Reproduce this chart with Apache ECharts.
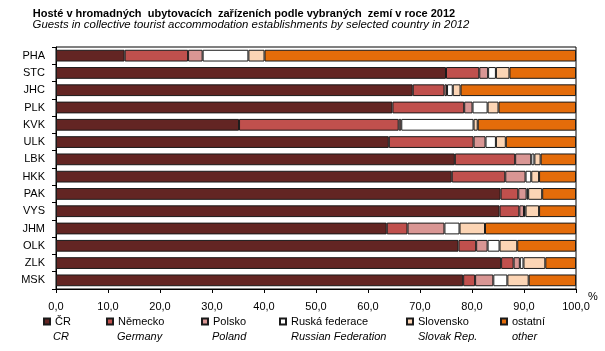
<!DOCTYPE html>
<html>
<head>
<meta charset="utf-8">
<script src="https://cdn.jsdelivr.net/npm/echarts@6/dist/echarts.min.js"></script>
<style>
  html, body { margin: 0; padding: 0; background: #fff; }
  #container { width: 605px; height: 351px; }
</style>
</head>
<body>
<div id="container"></div>
<script>
var categories = ['PHA', 'STC', 'JHC', 'PLK', 'KVK', 'ULK', 'LBK', 'HKK', 'PAK', 'VYS', 'JHM', 'OLK', 'ZLK', 'MSK'];
var seriesNames = ['ČR', 'Německo', 'Polsko', 'Ruská federace', 'Slovensko', 'ostatní'];
var seriesNamesEn = ['CR', 'Germany', 'Poland', 'Russian Federation', 'Slovak Rep.', 'other'];
var crValues = [13.2, 75.0, 68.6, 64.7, 35.2, 64.0, 76.7, 76.1, 85.5, 85.3, 63.6, 77.4, 85.6, 78.3];
var deValues = [12.2, 6.4, 6.1, 13.8, 30.7, 16.3, 11.6, 10.3, 3.4, 3.8, 4.0, 3.4, 2.4, 2.3];
var plValues = [2.8, 1.7, 0.5, 1.6, 0.5, 2.3, 3.1, 3.9, 1.6, 0.9, 7.1, 2.2, 1.2, 3.5];
var ruValues = [8.8, 1.5, 1.1, 2.9, 13.9, 2.0, 0.6, 1.1, 0.3, 0.3, 2.9, 2.3, 0.7, 2.7];
var skValues = [3.1, 2.6, 1.5, 2.1, 0.8, 1.9, 1.2, 1.5, 2.7, 2.6, 4.9, 3.4, 4.2, 4.1];
var otherValues = [59.9, 12.8, 22.2, 14.9, 18.9, 13.5, 6.8, 7.1, 6.5, 7.1, 17.5, 11.3, 5.9, 9.1];

var colors = ['#632523', '#C0504D', '#D99694', '#FFFFFF', '#FCD5B5', '#E46C0A'];
var allValues = [crValues, deValues, plValues, ruValues, skValues, otherValues];
var legendLeft = [43, 106, 201, 279, 406, 500];
var enLeft = [53, 117, 212, 291, 418, 512];
var font = 'Liberation Sans, Arial, sans-serif';

var dom = document.getElementById('container');
var myChart = echarts.init(dom);

var series = seriesNames.map(function (name, i) {
    return {
        name: name,
        type: 'bar',
        stack: 'total',
        barCategoryGap: '32%',
        itemStyle: { color: colors[i], borderColor: '#1a1a1a', borderWidth: 1 },
        data: allValues[i]
    };
});

var legends = seriesNames.map(function (name, i) {
    return {
        data: [{ name: name, icon: 'rect' }],
        left: legendLeft[i],
        top: 316,
        padding: 0,
        itemWidth: 6,
        itemHeight: 6,
        selectedMode: false,
        textStyle: { fontSize: 11, color: '#000', fontFamily: font }
    };
});

var graphics = seriesNamesEn.map(function (t, i) {
    return {
        type: 'text',
        left: enLeft[i],
        top: 331,
        style: { text: t, fill: '#000', font: 'italic 11px ' + font }
    };
});
graphics.push({
    type: 'text',
    left: 588,
    top: 291,
    style: { text: '%', fill: '#000', font: '11px ' + font }
});

var option = {
    animation: false,
    title: [
        {
            text: 'Hosté v hromadných  ubytovacích  zařízeních podle vybraných  zemí v roce 2012',
            left: 244,
            textAlign: 'center',
            top: 8,
            padding: 0,
            textStyle: { fontSize: 11, fontWeight: 'bold', color: '#000', fontFamily: font }
        },
        {
            text: 'Guests in collective tourist accommodation establishments by selected country in 2012',
            left: 251,
            textAlign: 'center',
            top: 19,
            padding: 0,
            textStyle: { fontSize: 11.4, fontWeight: 'normal', fontStyle: 'italic', color: '#000', fontFamily: font }
        }
    ],
    legend: legends,
    grid: {
        left: 56,
        right: 29,
        top: 47,
        bottom: 62,
        show: true,
        borderColor: '#000',
        borderWidth: 1
    },
    xAxis: {
        type: 'value',
        min: 0,
        max: 100,
        interval: 10,
        axisLine: { show: true, lineStyle: { color: '#000' } },
        axisTick: { show: true, length: 4, lineStyle: { color: '#000' } },
        splitLine: { show: false },
        axisLabel: {
            margin: 12,
            fontSize: 11,
            color: '#000',
            fontFamily: font,
            formatter: function (v) { return v.toFixed(1).replace('.', ','); }
        }
    },
    yAxis: {
        type: 'category',
        inverse: true,
        data: categories,
        axisLine: { show: true, lineStyle: { color: '#000' } },
        axisTick: { show: true, length: 4, lineStyle: { color: '#000' } },
        axisLabel: { margin: 11, fontSize: 11, color: '#000', fontFamily: font }
    },
    graphic: graphics,
    series: series
};

myChart.setOption(option, true);
</script>
</body>
</html>
